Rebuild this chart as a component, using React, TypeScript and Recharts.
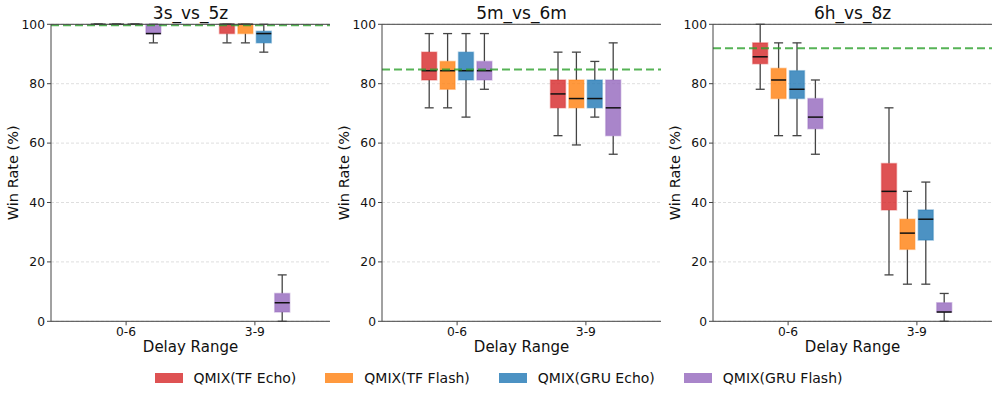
import {
  Bar,
  BarChart,
  CartesianGrid,
  ReferenceLine,
  XAxis,
  YAxis,
} from "recharts";

const categories = ["0-6", "3-9"];
const seriesNames = ["QMIX(TF Echo)", "QMIX(TF Flash)", "QMIX(GRU Echo)", "QMIX(GRU Flash)"];
const colors = ["#d62728", "#ff7f0e", "#1f77b4", "#9467bd"];
const yTicks = [0, 20, 40, 60, 80, 100];

// five-number summaries [min, q1, median, q3, max] per delay range
const tfEcho3s5z = [[100, 100, 100, 100, 100], [93.75, 96.875, 100, 100, 100]];
const tfFlash3s5z = [[100, 100, 100, 100, 100], [93.75, 96.875, 100, 100, 100]];
const gruEcho3s5z = [[100, 100, 100, 100, 100], [90.625, 93.75, 96.875, 97.66, 100]];
const gruFlash3s5z = [[93.75, 96.875, 96.875, 100, 100], [0, 3.125, 6.25, 9.375, 15.625]];

const tfEcho5m6m = [[71.875, 81.25, 84.375, 90.625, 96.875], [62.5, 71.875, 76.56, 81.25, 90.625]];
const tfFlash5m6m = [[71.875, 78.125, 84.375, 87.5, 96.875], [59.375, 71.875, 75, 81.25, 90.625]];
const gruEcho5m6m = [[68.75, 81.25, 84.375, 90.625, 96.875], [68.75, 71.875, 75, 81.25, 87.5]];
const gruFlash5m6m = [[78.125, 81.25, 84.375, 87.5, 96.875], [56.25, 62.5, 71.875, 81.25, 93.75]];

const tfEcho6h8z = [[78.125, 86.72, 89.06, 93.75, 100], [15.625, 37.5, 43.75, 53.125, 71.875]];
const tfFlash6h8z = [[62.5, 75, 81.25, 85.16, 93.75], [12.5, 24.22, 29.69, 34.375, 43.75]];
const gruEcho6h8z = [[62.5, 75, 78.125, 84.375, 93.75], [12.5, 27.34, 34.375, 37.5, 46.875]];
const gruFlash6h8z = [[56.25, 64.84, 68.75, 75, 81.25], [0, 3.125, 3.125, 6.25, 9.375]];

const titles = ["3s_vs_5z", "5m_vs_6m", "6h_vs_8z"];
const baselines = [99.7, 84.8, 91.9];
const panelSeries = [
  [tfEcho3s5z, tfFlash3s5z, gruEcho3s5z, gruFlash3s5z],
  [tfEcho5m6m, tfFlash5m6m, gruEcho5m6m, gruFlash5m6m],
  [tfEcho6h8z, tfFlash6h8z, gruEcho6h8z, gruFlash6h8z],
];

const FONT = "'DejaVu Sans', sans-serif";
const AXIS = "#444";

function BoxShape(props: any) {
  const { x, y, width, height, stats, color } = props;
  const [mn, q1, med, q3, mx] = stats;
  const top = Math.min(y, y + height);
  const span = Math.abs(height);
  const py = (v: number) => (mx > mn ? top + ((mx - v) / (mx - mn)) * span : top);
  const cx = x + width / 2;
  const cap = 4.5;
  const wc = "#444";
  return (
    <g>
      <line x1={cx} x2={cx} y1={py(q3)} y2={py(mx)} stroke={wc} strokeWidth={1.3} />
      <line x1={cx - cap} x2={cx + cap} y1={py(mx)} y2={py(mx)} stroke={wc} strokeWidth={1.3} />
      <line x1={cx} x2={cx} y1={py(q1)} y2={py(mn)} stroke={wc} strokeWidth={1.3} />
      <line x1={cx - cap} x2={cx + cap} y1={py(mn)} y2={py(mn)} stroke={wc} strokeWidth={1.3} />
      <rect
        x={x}
        y={py(q3)}
        width={width}
        height={Math.max(0, py(q1) - py(q3))}
        fill={color}
        fillOpacity={0.8}
        stroke={color}
        strokeOpacity={0.35}
        strokeWidth={1.5}
      />
      <line x1={x} x2={x + width} y1={py(med)} y2={py(med)} stroke="#111" strokeWidth={1.5} />
    </g>
  );
}

function Panel({ idx, left }: { idx: number; left: number }) {
  const series = panelSeries[idx];
  const data = categories.map((name, i) => {
    const row: any = { name };
    series.forEach((s, k) => {
      row["s" + k] = s[i];
    });
    return row;
  });

  return (
    <div style={{ position: "absolute", left, top: 0, width: 335, height: 360 }}>
      <div
        style={{
          position: "absolute",
          left: 51,
          width: 279,
          top: 2.5,
          textAlign: "center",
          fontSize: 17,
          lineHeight: "20px",
          color: "#111",
        }}
      >
        {titles[idx]}
      </div>
      <BarChart
        width={335}
        height={360}
        data={data}
        margin={{ top: 23.3, right: 5, bottom: 7.7, left: 0 }}
        barSize={15}
        barGap={3.4}
      >
        <CartesianGrid vertical={false} stroke="#d6d6d6" strokeWidth={0.8} strokeDasharray="3 2" />
        <ReferenceLine
          y={baselines[idx]}
          stroke="#2ca02c"
          strokeOpacity={0.8}
          strokeWidth={2}
          strokeDasharray="8 4"
        />
        <XAxis
          dataKey="name"
          interval={0}
          height={31}
          padding={{ left: 10.7, right: 10.7 }}
          tick={{ fill: "#111", fontSize: 12.3 }}
          tickSize={4}
          tickLine={{ stroke: AXIS }}
          axisLine={{ stroke: AXIS }}
          label={{ value: "Delay Range", position: "insideBottom", offset: 0, fill: "#111", fontSize: 15 }}
        />
        <XAxis
          xAxisId="top"
          orientation="top"
          dataKey="name"
          height={1}
          tick={false}
          tickLine={false}
          axisLine={{ stroke: AXIS }}
        />
        <YAxis
          domain={[0, 100]}
          ticks={yTicks}
          width={51}
          tick={{ fill: "#111", fontSize: 12.3 }}
          tickSize={4}
          tickLine={{ stroke: AXIS }}
          axisLine={{ stroke: AXIS }}
          label={{
            value: "Win Rate (%)",
            angle: -90,
            position: "insideLeft",
            offset: 13,
            fill: "#111",
            fontSize: 14.5,
            style: { textAnchor: "middle" },
          }}
        />
        <YAxis
          yAxisId="right"
          orientation="right"
          domain={[0, 100]}
          width={0}
          tick={false}
          tickLine={false}
          axisLine={{ stroke: AXIS }}
        />
        {series.map((_, k) => (
          <Bar
            key={k}
            name={seriesNames[k]}
            dataKey={(row: any) => [row["s" + k][0], row["s" + k][4]]}
            fill={colors[k]}
            isAnimationActive={false}
            shape={(p: any) => <BoxShape {...p} stats={p.payload["s" + k]} color={colors[k]} />}
          />
        ))}
      </BarChart>
    </div>
  );
}

export default function App() {
  return (
    <div
      style={{
        position: "absolute",
        left: 0,
        top: 0,
        width: 997,
        height: 396,
        background: "#fff",
        fontFamily: FONT,
      }}
    >
      <Panel idx={0} left={0} />
      <Panel idx={1} left={331} />
      <Panel idx={2} left={662} />
      <div
        style={{
          position: "absolute",
          left: 0,
          top: 367.5,
          width: 997,
          height: 20,
          display: "flex",
          alignItems: "center",
          justifyContent: "center",
          fontSize: 14,
          color: "#111",
        }}
      >
        {seriesNames.map((n, k) => (
          <div key={n} style={{ display: "flex", alignItems: "center", marginLeft: k ? 29 : 0 }}>
            <span
              style={{
                display: "inline-block",
                width: 28,
                height: 10,
                background: colors[k],
                opacity: 0.8,
                marginRight: 11,
              }}
            />
            <span>{n}</span>
          </div>
        ))}
      </div>
    </div>
  );
}
